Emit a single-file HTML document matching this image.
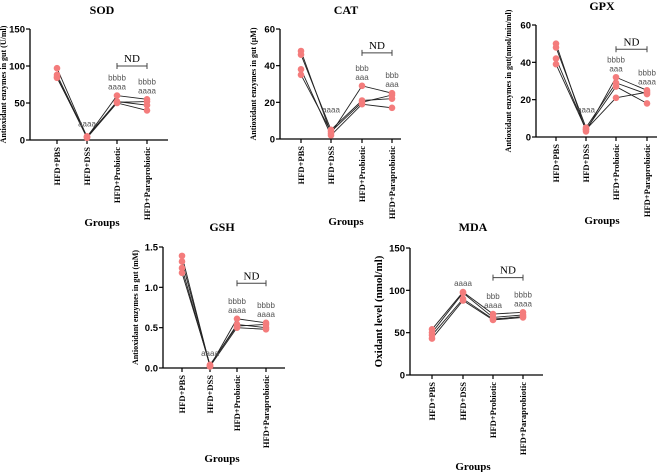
<!DOCTYPE html>
<html><head><meta charset="utf-8"><style>
html,body{margin:0;padding:0;background:#fff;}
svg{display:block;}
</style></head><body>
<svg id="fig" width="669" height="472" viewBox="0 0 669 472" xmlns="http://www.w3.org/2000/svg"></svg>
<script>
const groups = ["HFD+PBS","HFD+DSS","HFD+Probiotic","HFD+Paraprobiotic"];
const sodValues = [[97,88,85,84],[4,4,3,5],[60,52,50,51],[55,47,40,52]];
const catValues = [[48,46,38,35],[3,5,2,4],[29,21,19,20],[25,22,17,24]];
const gpxValues = [[50,48,42,39],[3,5,4,4],[32,29,27,21],[25,23,18,24]];
const gshValues = [[1.39,1.32,1.24,1.18],[0.02,0.03,0.02,0.04],[0.61,0.54,0.5,0.52],[0.56,0.5,0.48,0.54]];
const mdaValues = [[54,50,47,43],[98,97,90,88],[72,68,66,65],[74,71,69,68]];
const sodTicks = [0,50,100,150];
const catTicks = [0,20,40,60];
const gpxTicks = [0,20,40,60];
const gshTicks = [0,0.5,1.0,1.5];
const gshTickLabels = ["0.0","0.5","1.0","1.5"];
const mdaTicks = [0,50,100,150];
const sodAnn = [[null],["aaaa"],["bbbb","aaaa"],["bbbb","aaaa"]];
const catAnn = [[null],["aaaa"],["bbb","aaa"],["bbb","aaa"]];
const gpxAnn = [[null],["aaaa"],["bbbb","aaa"],["bbbb","aaaa"]];
const gshAnn = [[null],["aaaa"],["bbbb","aaaa"],["bbbb","aaaa"]];
const mdaAnn = [[null],["aaaa"],["bbb","aaaa"],["bbbb","aaaa"]];

const NS="http://www.w3.org/2000/svg";
const svg=document.getElementById('fig');
function mk(tag,attrs,parent,text){const e=document.createElementNS(NS,tag);for(const k in attrs)e.setAttribute(k,attrs[k]);if(text!==undefined)e.textContent=text;(parent||svg).appendChild(e);return e;}

function panel(cfg){
  const g=mk('g',{});
  
  
  const yMax=cfg.ticks[cfg.ticks.length-1];
  const Y=v=>cfg.y0-(v/yMax)*(cfg.y0-cfg.y1);
  const X=i=>cfg.cx[i];
  const t=mk('text',{x:cfg.titleX,y:cfg.titleY,'text-anchor':'middle','font-family':'Liberation Serif, serif','font-weight':'bold','font-size':12},g,cfg.title);
  
  
  mk('line',{x1:cfg.ax,y1:cfg.y1,x2:cfg.ax,y2:cfg.y0,stroke:'#000','stroke-width':1.3},g);
  mk('line',{x1:cfg.ax,y1:cfg.y0,x2:cfg.axEnd,y2:cfg.y0,stroke:'#000','stroke-width':1.3},g);
  cfg.ticks.forEach((v,i)=>{
    mk('line',{x1:cfg.ax-4,y1:Y(v),x2:cfg.ax,y2:Y(v),stroke:'#000','stroke-width':1.2},g);
    const tl=mk('text',{x:cfg.ax-5,y:Y(v)+3.5,'text-anchor':'end','font-family':'Liberation Sans, sans-serif','font-weight':'bold','font-size':9.5},g,cfg.tickLabels?cfg.tickLabels[i]:String(v));
    
    
  });
  groups.forEach((name,i)=>{
    mk('line',{x1:X(i),y1:cfg.y0,x2:X(i),y2:cfg.y0+4,stroke:'#000','stroke-width':1.2},g);
    const gl=mk('text',{x:0,y:0,'text-anchor':'end','font-family':'Liberation Serif, serif','font-weight':'bold','font-size':8.5,transform:`translate(${X(i)+3},${cfg.y0+7}) rotate(-90)`},g,name);
    
    
  });
  const yl=mk('text',{x:0,y:0,'text-anchor':'middle','font-family':'Liberation Serif, serif','font-weight':'bold','font-size':cfg.ylSize||8,transform:`translate(${cfg.ylX},${(cfg.y0+cfg.y1)/2}) rotate(-90)`},g,cfg.ylabel);
  
  
  const xl=mk('text',{x:cfg.titleX,y:cfg.groupsY,'text-anchor':'middle','font-family':'Liberation Serif, serif','font-weight':'bold','font-size':11},g,'Groups');
  
  
  const vals=cfg.values;
  for(let s=0;s<vals[0].length;s++){
    const pts=vals.map((arr,i)=>X(i)+','+Y(arr[s])).join(' ');
    const pl=mk('polyline',{points:pts,fill:'none',stroke:'#222','stroke-width':0.9},g);
    
    
  }
  vals.forEach((arr,i)=>arr.forEach(v=>{
    const c=mk('circle',{cx:X(i),cy:Y(v),r:3.3,fill:'#f47c7c'},g);
    
    
  }));
  cfg.ann.forEach((lines,i)=>{
    if(!lines[0])return;
    const top=Math.max(...vals[i]);
    let base=Y(top)-6;
    if(i===1 && cfg.dssAnn!==undefined) base=Y(cfg.dssAnn);
    lines.slice().reverse().forEach((txt,k)=>{
      const a=mk('text',{x:X(i),y:base-k*9,'text-anchor':'middle','font-family':'Liberation Sans, sans-serif','font-size':8,fill:'#555'},g,txt);
      
      
    });
  });
  const by=Y(cfg.nd);
  const br=mk('g',{},g);
  
  
  mk('line',{x1:X(2),y1:by,x2:X(3),y2:by,stroke:'#444','stroke-width':1},br);
  mk('line',{x1:X(2),y1:by-3,x2:X(2),y2:by+3,stroke:'#444','stroke-width':1},br);
  mk('line',{x1:X(3),y1:by-3,x2:X(3),y2:by+3,stroke:'#444','stroke-width':1},br);
  mk('text',{x:(X(2)+X(3))/2,y:by-4,'text-anchor':'middle','font-family':'Liberation Serif, serif','font-size':11},br,'ND');
}

panel({name:'sod',title:'SOD',titleX:102,titleY:14,ax:30,axEnd:168,y0:140,y1:29,cx:[57,87,117,147],ticks:sodTicks,values:sodValues,ann:sodAnn,dssAnn:18,nd:100,ylabel:'Antioxidant enzymes in gut (U/ml)',ylX:6,groupsY:226});
panel({name:'cat',title:'CAT',titleX:346,titleY:14,ax:280,axEnd:401,y0:139,y1:29,cx:[301,331,362,392],ticks:catTicks,values:catValues,ann:catAnn,dssAnn:14.5,nd:47,ylabel:'Antioxidant enzymes in gut (μM)',ylX:256,groupsY:225});
panel({name:'gpx',title:'GPX',titleX:602,titleY:10,ax:536,axEnd:657,y0:137,y1:25,cx:[556,586,616,647],ticks:gpxTicks,values:gpxValues,ann:gpxAnn,dssAnn:13,nd:47,ylabel:'Antioxidant enzymes in gut(nmol/min/ml)',ylX:511,groupsY:224});
panel({name:'gsh',title:'GSH',titleX:222,titleY:231,ax:163,axEnd:285,y0:368,y1:247,cx:[182,210,237,266],ticks:gshTicks,tickLabels:gshTickLabels,values:gshValues,ann:gshAnn,dssAnn:0.15,nd:1.05,ylabel:'Antioxidant enzymes in gut (mM)',ylX:138,groupsY:462});
panel({name:'mda',title:'MDA',titleX:473,titleY:231,ax:410,axEnd:543,y0:375,y1:248,cx:[432,463,493,523],ticks:mdaTicks,values:mdaValues,ann:mdaAnn,nd:115,ylabel:'Oxidant level (nmol/ml)',ylX:382,ylSize:11,groupsY:470});
</script>
</body></html>
